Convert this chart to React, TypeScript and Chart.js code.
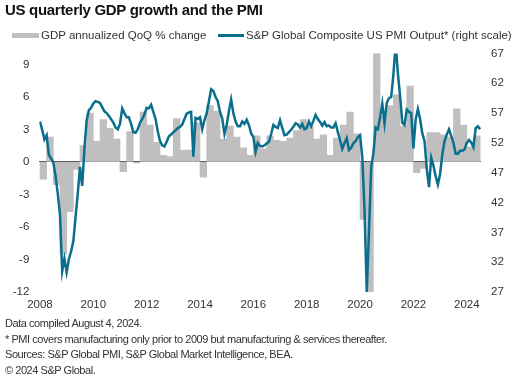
import React, { useEffect, useRef } from "react";
import { Chart, registerables } from "chart.js";

Chart.register(...registerables);

// Quarterly real GDP, annualized QoQ % change, 2008 Q1 .. 2024 Q2
const gdpQuarterly = [
  -1.6, 2.3, -2.1, -8.5,
  -4.6, -0.7, 1.5, 4.5,
  1.9, 3.9, 3.1, 2.1,
  -0.9, 2.8, -0.1, 4.6,
  3.4, 1.8, 0.6, 0.5,
  4.0, 1.1, 1.1, 3.6,
  -1.4, 5.2, 4.7, 2.1,
  3.3, 2.3, 1.3, 0.6,
  2.4, 1.2, 2.4, 2.0,
  1.9, 2.2, 2.9, 3.9,
  3.3, 2.1, 2.5, 0.6,
  2.2, 3.4, 4.6, 2.6,
  -5.3, -28.0, 34.8, 4.2,
  5.2, 6.2, 3.3, 7.0,
  -1.0, -0.6, 2.7, 2.7,
  2.5, 2.3, 4.9, 3.4,
  1.4, 2.4,
];

// Monthly PMI output index, Jan 2008 .. Jul 2024
const pmiMonthly = [
  55.6, 54.2, 52.6, 53.3, 50.0, 49.4, 48.7, 46.5, 43.5, 40.0, 30.5, 32.6,
  30.3, 32.5, 33.8, 35.5, 39.5, 43.5, 48.0, 44.8, 51.0, 55.8, 57.5, 57.9,
  58.6, 59.0, 58.9, 58.7, 58.0, 57.3, 57.0, 56.5, 56.0, 55.4, 54.6, 54.3,
  55.2, 57.8, 57.0, 56.3, 56.3, 55.2, 53.8, 53.7, 54.3, 55.4, 56.0, 56.8,
  57.9, 57.8, 58.4, 57.2, 56.0, 53.9, 52.3, 51.6, 51.4, 52.2, 53.1, 53.4,
  53.8, 54.1, 54.5, 54.7, 55.1, 56.0, 56.9, 57.1, 57.2, 49.7, 56.2, 56.0,
  56.3, 54.3, 55.8, 57.0, 59.0, 61.0, 60.7, 59.7, 59.0, 57.2, 56.1, 53.5,
  55.0, 57.3, 59.3, 57.0, 55.6, 54.8, 54.8, 55.6, 55.2, 55.9, 55.0, 53.6,
  53.0, 50.5, 52.0, 51.5, 51.4, 51.6, 51.9, 52.2, 53.5, 55.0, 54.7, 54.5,
  55.8, 54.5, 53.3, 53.4, 53.8, 54.2, 54.7, 55.3, 55.1, 54.6, 55.2, 54.3,
  54.5, 55.6, 54.8, 55.7, 56.7, 56.0, 55.5, 54.9, 55.5, 54.8, 54.9, 54.6,
  54.6, 55.3, 53.8, 52.5, 51.0, 52.0, 52.8, 50.8, 51.2, 52.0, 52.3, 53.0,
  53.3, 49.6, 40.9, 27.0, 37.0, 47.9, 50.3, 54.6, 54.3, 56.3, 58.6, 55.3,
  58.7, 59.5, 59.7, 63.5, 68.7, 63.7, 59.9, 55.4, 55.0, 57.6, 57.2, 57.0,
  51.1, 55.9, 57.7, 56.0, 53.6, 52.3, 47.7, 44.6, 49.5, 48.2, 46.4, 45.0,
  46.8, 50.1, 52.3, 53.4, 54.3, 53.2, 52.0, 50.2, 50.2, 50.7, 50.7, 50.9,
  52.0, 52.5, 52.1, 51.3, 54.5, 54.8, 54.3,
];

const START_YEAR = 2008;
const xTickYears = [2008, 2010, 2012, 2014, 2016, 2018, 2020, 2022, 2024];
const leftTicks = [-12, -9, -6, -3, 0, 3, 6, 9];
const rightTicks = [27, 32, 37, 42, 47, 52, 57, 62, 67];

const TEAL = "#0A6F8C";
const GREY = "#BFBFBF";
const FONT = '"Liberation Sans", Arial, sans-serif';
const TEXT = "#333333";

const legendLabels = [
  "GDP annualized QoQ % change",
  "S&P Global Composite US PMI Output* (right scale)",
];
const titleText = "US quarterly GDP growth and the PMI";
const footnotes = [
  "Data compiled August 4, 2024.",
  "* PMI covers manufacturing only prior to 2009 but manufacturing & services thereafter.",
  "Sources: S&P Global PMI, S&P Global Market Intelligence, BEA.",
  "\u00A9 2024 S&P Global.",
];

export default function App() {
  const ref = useRef<HTMLCanvasElement>(null);

  useEffect(() => {
    const gdpPoints = gdpQuarterly.map((v, i) => ({ x: i * 3 + 1.5, y: v }));
    const pmiPoints = pmiMonthly.map((v, i) => ({ x: i, y: v }));
    const tickFont = { family: FONT, size: 11.5 };

    const chart = new Chart(ref.current as HTMLCanvasElement, {
      type: "bar",
      data: {
        datasets: [
          {
            type: "line",
            label: legendLabels[1],
            data: pmiPoints,
            xAxisID: "x",
            yAxisID: "y1",
            borderColor: TEAL,
            backgroundColor: TEAL,
            borderWidth: 2.5,
            pointRadius: 0,
            tension: 0,
            order: 0,
          } as any,
          {
            type: "bar",
            label: legendLabels[0],
            data: gdpPoints,
            xAxisID: "x",
            yAxisID: "y",
            backgroundColor: GREY,
            borderWidth: 0,
            barPercentage: 1,
            categoryPercentage: 1,
            order: 1,
          } as any,
        ],
      },
      options: {
        responsive: false,
        animation: false,
        layout: { padding: { left: 0, right: 0, top: 53.5, bottom: 74 } },
        plugins: { legend: { display: false }, tooltip: { enabled: false } },
        scales: {
          x: {
            type: "linear",
            min: -0.3,
            max: 198.4,
            offset: false,
            grid: { display: false, drawTicks: false },
            border: { display: false },
            afterBuildTicks: (s: any) => {
              s.ticks = xTickYears.map((y) => ({ value: (y - START_YEAR) * 12 }));
            },
            afterFit: (s: any) => {
              s.height = 20;
            },
            ticks: {
              autoSkip: false,
              maxRotation: 0,
              padding: 6,
              color: TEXT,
              font: tickFont,
              callback: (v: any) => String(START_YEAR + Math.round(Number(v) / 12)),
            },
          },
          y: {
            type: "linear",
            position: "left",
            min: -12,
            max: 10,
            grid: {
              drawTicks: false,
              lineWidth: 1,
              color: (ctx: any) =>
                ctx.tick && ctx.tick.value === 0 ? "#5A5A5A" : "rgba(0,0,0,0)",
            },
            border: { display: false },
            afterBuildTicks: (s: any) => {
              s.ticks = leftTicks.map((v) => ({ value: v }));
            },
            afterFit: (s: any) => {
              s.width = 39.3;
            },
            ticks: { padding: 10, color: TEXT, font: tickFont },
          },
          y1: {
            type: "linear",
            position: "right",
            min: 27,
            max: 67,
            grid: { display: false, drawTicks: false },
            border: { display: false },
            afterBuildTicks: (s: any) => {
              s.ticks = rightTicks.map((v) => ({ value: v }));
            },
            afterFit: (s: any) => {
              s.width = 49;
            },
            ticks: { padding: 10, color: TEXT, font: tickFont },
          },
        },
      } as any,
    });
    return () => chart.destroy();
  }, []);

  const abs = (o: React.CSSProperties): React.CSSProperties => ({
    position: "absolute",
    whiteSpace: "nowrap",
    ...o,
  });

  return (
    <div
      style={{
        position: "absolute",
        left: 0,
        top: 0,
        width: 530,
        height: 386,
        background: "#ffffff",
        overflow: "hidden",
        fontFamily: FONT,
      }}
    >
      <canvas
        ref={ref}
        width={530}
        height={386}
        style={{ position: "absolute", left: 0, top: 0, display: "block" }}
      />
      <div
        style={abs({
          left: 5,
          top: 1.8,
          fontSize: 15,
          fontWeight: "bold",
          letterSpacing: "-0.3px",
          lineHeight: "16px",
          color: "#111111",
        })}
      >
        {titleText}
      </div>
      <div style={abs({ left: 12, top: 32.5, width: 27, height: 5, background: GREY })} />
      <div style={abs({ left: 41, top: 28, fontSize: 11.5, lineHeight: "14px", color: TEXT })}>
        {legendLabels[0]}
      </div>
      <div style={abs({ left: 218, top: 34, width: 26, height: 2.5, background: TEAL })} />
      <div style={abs({ left: 246, top: 28, fontSize: 11.5, lineHeight: "14px", color: TEXT })}>
        {legendLabels[1]}
      </div>
      {footnotes.map((t, i) => (
        <div
          key={i}
          style={abs({
            left: 5,
            top: 316 + i * 15.7,
            fontSize: 11,
            lineHeight: "15px",
            letterSpacing: "-0.45px",
            color: TEXT,
          })}
        >
          {t}
        </div>
      ))}
    </div>
  );
}
